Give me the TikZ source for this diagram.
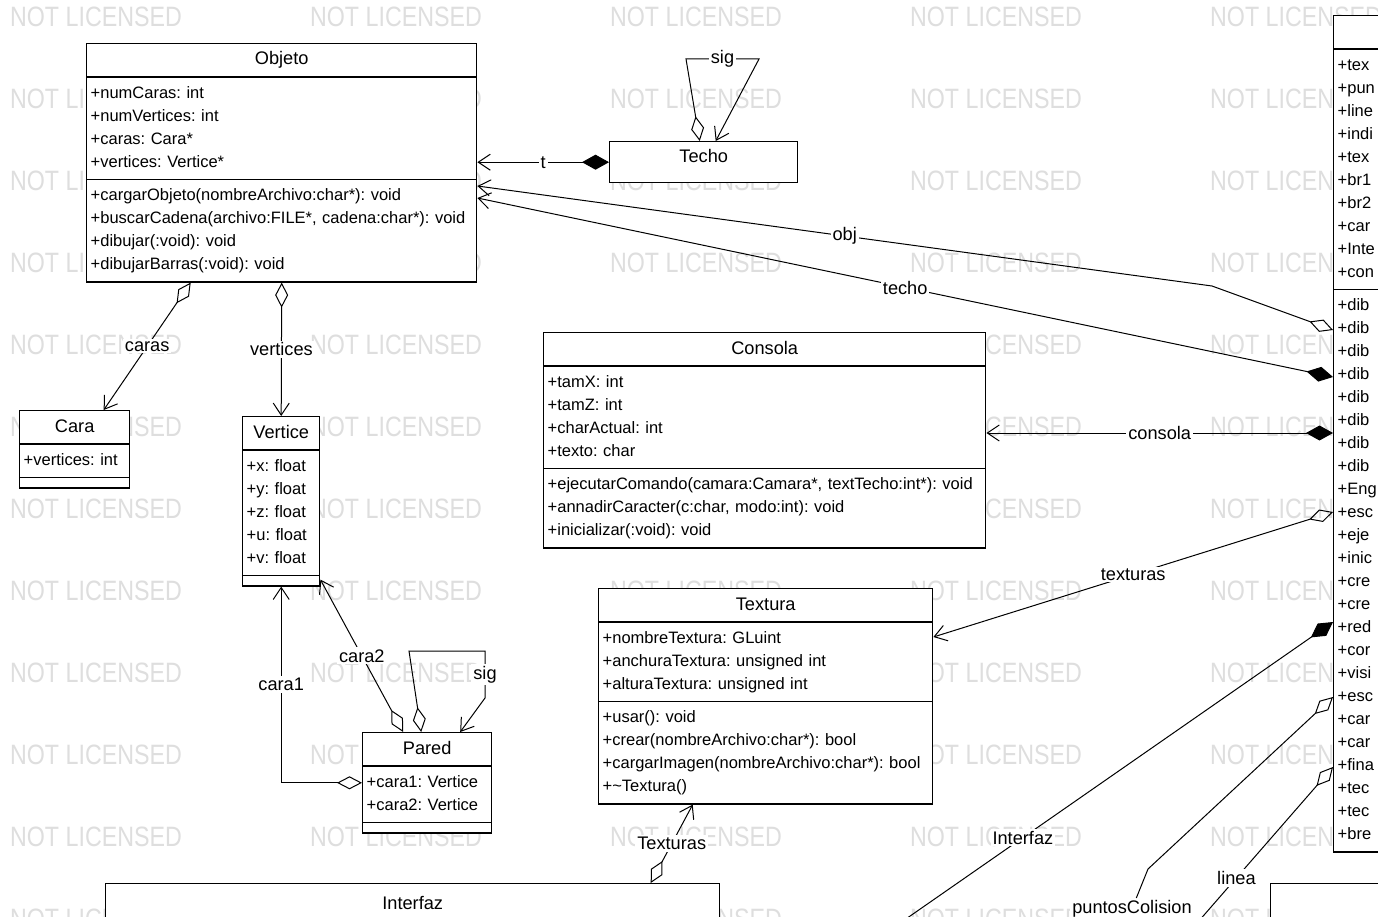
\documentclass[tikz,border=0pt]{standalone}
\usepackage{fontspec}
\setmainfont{Liberation Sans}
\newfontfamily\wmfont[FakeStretch=0.83]{Liberation Sans}
\usetikzlibrary{arrows.meta,shapes.multipart}

\begin{document}
\begin{tikzpicture}[
    x=1pt, y=-1pt,
    wmark/.style={text=black!13, inner sep=0pt,
                  font=\wmfont\fontsize{28}{28}\selectfont},
    umlclass/.style={draw, line width=1.4pt, fill=white, anchor=north west,
                     rectangle split, rectangle split parts=3,
                     inner xsep=4pt, inner ysep=4.5pt, align=left,
                     font=\fontsize{16.5}{23}\selectfont\frenchspacing,
                     every text node part/.style={font=\fontsize{18.2}{23}\selectfont}},
    umlbox/.style={draw, line width=1.4pt, fill=white, anchor=north west,
                   inner xsep=4pt, inner ysep=4.5pt, align=center,
                   font=\fontsize{18.2}{23}\selectfont},
    lbl/.style={fill=white, inner sep=2pt, font=\fontsize{18.2}{20}\selectfont},
    aggr/.style={line width=1pt,
                 {Diamond[open, length=25pt, width=13pt]}-{Straight Barb[length=12pt, width=16pt]}},
    comp/.style={line width=1pt,
                 {Diamond[length=27pt, width=15pt]}-{Straight Barb[length=12pt, width=16pt]}},
    aggrline/.style={line width=1pt, {Diamond[open, length=25pt, width=13pt]}-},
    compline/.style={line width=1pt, {Diamond[length=27pt, width=15pt]}-},
]
    \useasboundingbox (0,0) rectangle (1378,917);
    \fill[white] (0,0) rectangle (1378,917);
    \clip (0,0) rectangle (1378,917);

    % watermark
    \foreach \wx in {96,396,...,1296}
        \foreach \wy in {17,99,...,919}
            \node[wmark] (wm-\wx-\wy) at (\wx,\wy) {NOT LICENSED};

    % classes
    \node[umlclass, text width=382pt] (objeto) at (86,43)
        {\makebox[\linewidth]{\strut Objeto\strut}
         \nodepart{two}\strut+numCaras: int\\
         +numVertices: int\\
         +caras: Cara*\\
         +vertices: Vertice*\strut
         \nodepart{three}\strut+cargarObjeto(nombreArchivo:char*): void\\
         +buscarCadena(archivo:FILE*, cadena:char*): void\\
         +dibujar(:void): void\\
         +dibujarBarras(:void): void\strut};
    \node[umlbox, text width=180pt, text height=16.1pt, text depth=15.9pt] (techo) at (609,141) {Techo};
    \node[umlclass, text width=102pt] (cara) at (19,410)
        {\makebox[\linewidth]{\strut Cara\strut}
         \nodepart{two}\strut+vertices: int\strut
         \nodepart{three}};
    \node[umlclass, text width=69pt] (vertice) at (242,416)
        {\makebox[\linewidth]{\strut Vertice\strut}
         \nodepart{two}\strut+x: float\\
         +y: float\\
         +z: float\\
         +u: float\\
         +v: float\strut
         \nodepart{three}};
    \node[umlclass, text width=121pt] (pared) at (362,732)
        {\makebox[\linewidth]{\strut Pared\strut}
         \nodepart{two}\strut+cara1: Vertice\\
         +cara2: Vertice\strut
         \nodepart{three}};
    \node[umlclass, text width=434pt] (consola) at (543,332)
        {\makebox[\linewidth]{\strut Consola\strut}
         \nodepart{two}\strut+tamX: int\\
         +tamZ: int\\
         +charActual: int\\
         +texto: char\strut
         \nodepart{three}\strut+ejecutarComando(camara:Camara*, textTecho:int*): void\\
         +annadirCaracter(c:char, modo:int): void\\
         +inicializar(:void): void\strut};
    \node[umlclass, text width=326pt] (textura) at (598,588)
        {\makebox[\linewidth]{\strut Textura\strut}
         \nodepart{two}\strut+nombreTextura: GLuint\\
         +anchuraTextura: unsigned int\\
         +alturaTextura: unsigned int\strut
         \nodepart{three}\strut+usar(): void\\
         +crear(nombreArchivo:char*): bool\\
         +cargarImagen(nombreArchivo:char*): bool\\
         +\textasciitilde Textura()\strut};
    \node[umlbox, text width=606pt, text height=21pt, text depth=60pt] (interfaz) at (105,883) {Interfaz};
    \node[umlbox, minimum width=150pt, minimum height=80pt] (rbox) at (1270,883) {};
    \node[umlclass, text width=200pt] (engine) at (1333,15)
        {\strut
         \nodepart{two}\strut+tex\\
         +pun\\
         +line\\
         +indi\\
         +tex\\
         +br1\\
         +br2\\
         +car\\
         +Inte\\
         +con\strut
         \nodepart{three}\strut+dib\\
         +dib\\
         +dib\\
         +dib\\
         +dib\\
         +dib\\
         +dib\\
         +dib\\
         +Eng\\
         +esc\\
         +eje\\
         +inic\\
         +cre\\
         +cre\\
         +red\\
         +cor\\
         +visi\\
         +esc\\
         +car\\
         +car\\
         +fina\\
         +tec\\
         +tec\\
         +bre\strut};

    % associations
    \draw[comp] (techo.west) -- node[lbl] (lt) {t} (techo.west -| objeto.east);
    \draw[aggr] ([xshift=-4pt]techo.north) -- (686,59)
        -- node[lbl] (lsig1) {sig} (759,59) -- ([xshift=12pt]techo.north);
    \draw[aggr] (engine.west |- 0,330) -- (1212,286)
        -- node[lbl] (lobj) {obj} (objeto.east |- 0,186);
    \draw[comp] (engine.west |- 0,377) -- node[lbl] (ltecho) {techo} (objeto.east |- 0,198);
    \draw[comp] (engine.west |- 0,433) -- node[lbl] (lconsola) {consola} (consola.east |- 0,433);
    \draw[aggr] (engine.west |- 0,512) -- node[lbl] (ltexturas) {texturas} (textura.east |- 0,637);

    \coordinate (interfazEnd) at (890,930);
    \draw[compline] (engine.west |- 0,622) -- node[lbl, pos=.70] (linterfaz) {Interfaz} (interfazEnd);
    \node[lbl, anchor=north] (lpuntos) at (1132,898) {puntosColision};
    \draw[aggrline] (engine.west |- 0,697) -- (1148,869) -- (lpuntos);
    \coordinate (lineaEnd) at (1191,930);
    \draw[aggrline] (engine.west |- 0,767) -- node[lbl, pos=.68] (llinea) {linea} (lineaEnd);

    \draw[aggr] ([xshift=-91pt]objeto.south) -- node[lbl] (lcaras) {caras} ([xshift=29pt]cara.north);
    \draw[aggr] (objeto.south) -- node[lbl] (lvertices) {vertices} (vertice.north);
    \draw[aggr] (pared.west) -| node[lbl, pos=.75] (lcara1) {cara1} (vertice.south);
    \draw[aggr] ([xshift=-24pt]pared.north) -- node[lbl] (lcara2) {cara2} ([yshift=7pt]vertice.south east);
    \draw[aggr] ([xshift=-6pt]pared.north) -- (409,651) -- (485,651)
        -- node[lbl] (lsig2) {sig} (485,698) -- ([xshift=33pt]pared.north);
    \draw[aggr] ([xshift=238pt]interfaz.north) -- node[lbl] (lTexturas) {Texturas} ([xshift=-73pt]textura.south);
\end{tikzpicture}
\end{document}
